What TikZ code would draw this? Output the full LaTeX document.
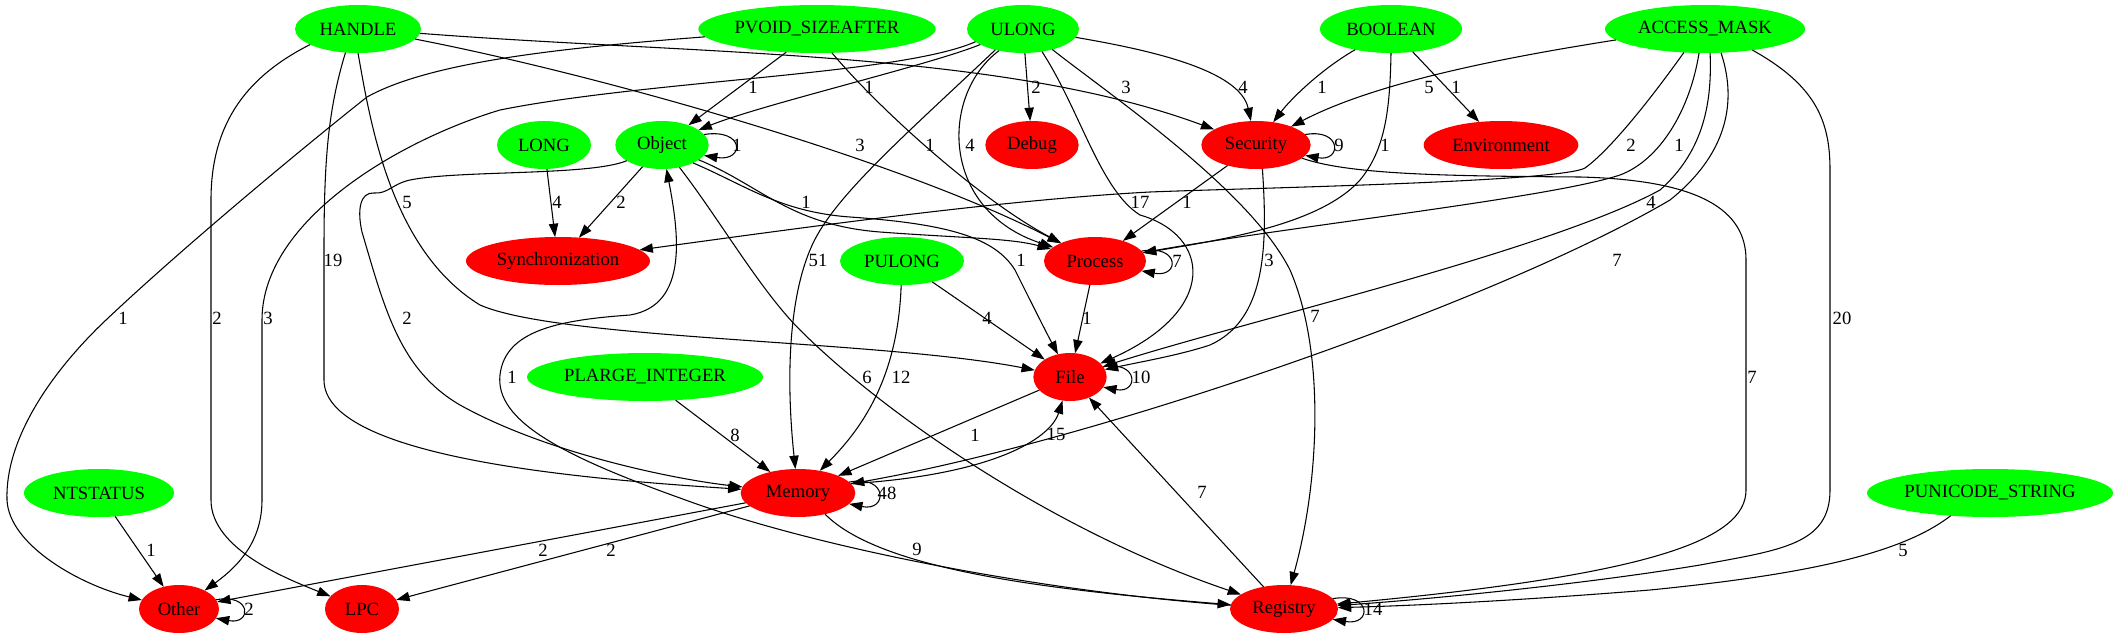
\documentclass[tikz,border=0pt]{standalone}
\usepackage{fontspec}
\setmainfont{Liberation Serif}
\usetikzlibrary{arrows.meta,shapes.geometric}
\newcommand{\nl}[1]{\makebox[0pt][c]{#1}}
\begin{document}
\begin{tikzpicture}[x=0.75pt,y=-0.75pt,
  gnode/.style={ellipse,inner sep=0pt,outer sep=0pt,minimum height=36pt,font=\fontsize{14}{16}\selectfont},
  gn/.style={gnode,fill=green},
  rn/.style={gnode,fill=red},
  edge/.style={draw=black,line width=0.8pt,-{Triangle[length=10pt,width=7pt]}},
  lab/.style={inner sep=0pt,font=\fontsize{14}{16}\selectfont}]
\fill[white] (0,0) rectangle (2115,639);
\useasboundingbox (0,0) rectangle (2115,639);
% nodes
\node[gn,minimum width=94.5pt] (HANDLE) at (358,29) {\nl{HANDLE}};
\node[gn,minimum width=178pt] (PVOID) at (817,29) {\nl{PVOID\_SIZEAFTER}};
\node[gn,minimum width=84pt] (ULONG) at (1023,29) {\nl{ULONG}};
\node[gn,minimum width=106.5pt] (BOOLEAN) at (1391,29) {\nl{BOOLEAN}};
\node[gn,minimum width=150pt] (AM) at (1705,29) {\nl{ACCESS\_MASK}};
\node[gn,minimum width=70.5pt] (LONG) at (544,145) {\nl{LONG}};
\node[gn,minimum width=70pt] (Object) at (662,145) {\nl{Object}};
\node[rn,minimum width=70pt] (Debug) at (1032,145) {\nl{Debug}};
\node[rn,minimum width=82pt] (Security) at (1256,145) {\nl{Security}};
\node[rn,minimum width=116pt] (Environment) at (1501,145) {\nl{Environment}};
\node[rn,minimum width=138pt] (Sync) at (558,261) {\nl{Synchronization}};
\node[gn,minimum width=93pt] (PULONG) at (902,261) {\nl{PULONG}};
\node[rn,minimum width=76.5pt] (Process) at (1095,261) {\nl{Process}};
\node[gn,minimum width=177pt] (PLI) at (645,377) {\nl{PLARGE\_INTEGER}};
\node[rn,minimum width=55pt] (File) at (1070,377) {\nl{File}};
\node[gn,minimum width=112.5pt] (NTSTATUS) at (99,493) {\nl{NTSTATUS}};
\node[rn,minimum width=86pt] (Memory) at (798,493) {\nl{Memory}};
\node[gn,minimum width=184.5pt] (PUS) at (1990,493) {\nl{PUNICODE\_STRING}};
\node[rn,minimum width=60pt] (Other) at (179,609) {\nl{Other}};
\node[rn,minimum width=55.5pt] (LPC) at (362,609) {\nl{LPC}};
\node[rn,minimum width=81pt] (Registry) at (1284,609) {\nl{Registry}};
% HANDLE
\draw[edge] (HANDLE.-4) .. controls (700,55) and (1000,50) .. (Security);
\draw[edge] (HANDLE.-10) .. controls (600,75) and (900,160) .. (Process);
\draw[edge] (HANDLE.south) .. controls (370,120) and (390,250) .. (480,305) .. controls (560,340) and (880,340) .. (File);
\draw[edge] (HANDLE.242) .. controls (328,110) and (324,160) .. (324,250) -- (324,380) .. controls (324,460) and (600,480) .. (Memory);
\draw[edge] (HANDLE.198) .. controls (250,75) and (211,120) .. (211,200) -- (211,500) .. controls (211,550) and (290,580) .. (LPC);
% PVOID
\draw[edge] (PVOID.184) .. controls (560,48) and (430,62) .. (367,97) .. controls (300,150) and (180,250) .. (106,320) .. controls (50,373) and (5,440) .. (7,500) .. controls (9,545) and (80,585) .. (Other);
\draw[edge] (PVOID.217) -- (Object);
\draw[edge] (PVOID.-58) .. controls (880,110) and (980,200) .. (Process);
% ULONG
\draw[edge] (ULONG.200) .. controls (930,65) and (760,105) .. (Object);
\draw[edge] (ULONG) -- (Debug);
\draw[edge] (ULONG.-9) .. controls (1150,50) and (1240,70) .. (Security);
\draw[edge] (ULONG.222) .. controls (940,95) and (940,210) .. (Process);
\draw[edge] (ULONG.217) .. controls (900,140) and (830,200) .. (810,250) .. controls (785,310) and (788,400) .. (Memory);
\draw[edge] (ULONG.-50) .. controls (1080,110) and (1100,190) .. (1140,215) .. controls (1210,235) and (1220,310) .. (File);
\draw[edge] (ULONG.-35) .. controls (1110,95) and (1250,190) .. (1290,270) .. controls (1325,350) and (1320,480) .. (Registry);
\draw[edge] (ULONG.195) .. controls (900,75) and (650,80) .. (500,110) .. controls (400,140) and (262,220) .. (262,320) -- (262,500) .. controls (262,540) and (240,565) .. (Other);
% BOOLEAN
\draw[edge] (BOOLEAN.210) .. controls (1320,70) and (1290,100) .. (Security);
\draw[edge] (BOOLEAN) -- (Environment);
\draw[edge] (BOOLEAN.south) .. controls (1390,110) and (1385,150) .. (1360,180) .. controls (1320,225) and (1220,240) .. (Process);
% ACCESS_MASK
\draw[edge] (AM.187) .. controls (1520,55) and (1380,80) .. (Security);
\draw[edge] (AM.228) .. controls (1650,100) and (1610,150) .. (1585,168) .. controls (1560,182) and (1250,188) .. (1150,192) .. controls (1000,200) and (800,228) .. (Sync);
\draw[edge] (AM.256) .. controls (1690,110) and (1660,160) .. (1620,175) .. controls (1550,198) and (1300,225) .. (Process);
\draw[edge] (AM.-78) .. controls (1712,100) and (1705,150) .. (1660,190) .. controls (1550,250) and (1250,320) .. (File);
\draw[edge] (AM.-56) .. controls (1740,110) and (1720,160) .. (1670,200) .. controls (1500,300) and (1100,440) .. (Memory);
\draw[edge] (AM.-24) .. controls (1815,85) and (1830,120) .. (1830,170) -- (1830,490) .. controls (1830,545) and (1780,550) .. (1700,565) .. controls (1580,585) and (1420,600) .. (Registry);
% Security
\draw[edge] (Security.12) .. controls (1342,128) and (1342,162) .. (Security.-12);
\draw[edge] (Security) -- (Process);
\draw[edge] (Security.-75) .. controls (1268,250) and (1265,320) .. (1210,345) .. controls (1180,355) and (1140,362) .. (File);
\draw[edge] (Security.-16) .. controls (1350,175) and (1450,176) .. (1580,177) .. controls (1700,180) and (1746,210) .. (1746,260) -- (1746,490) .. controls (1746,540) and (1650,575) .. (Registry);
% Process
\draw[edge] (Process.12) .. controls (1180,244) and (1180,278) .. (Process.-12);
\draw[edge] (Process) -- (File);
% Object
\draw[edge] (Object.14) .. controls (745,128) and (745,162) .. (Object.-14);
\draw[edge] (Object) -- (Sync);
\draw[edge] (Object.-22) .. controls (760,185) and (790,225) .. (880,232) .. controls (960,238) and (1010,238) .. (Process);
\draw[edge] (Object.-30) .. controls (745,185) and (780,212) .. (850,217) .. controls (950,224) and (995,238) .. (1015,270) .. controls (1030,300) and (1045,330) .. (File);
\draw[edge] (Object.204) .. controls (590,176) and (460,170) .. (410,180) .. controls (392,184) and (388,194) .. (374,193) .. controls (360,192) and (357,210) .. (362,232) .. controls (385,310) and (400,370) .. (460,405) .. controls (550,455) and (680,480) .. (Memory);
\draw[edge] (Object.-52) .. controls (720,220) and (760,290) .. (800,330) .. controls (880,410) and (1050,530) .. (Registry);
\draw[edge] (Registry.176) .. controls (1050,592) and (820,550) .. (680,498) .. controls (560,455) and (495,420) .. (500,375) .. controls (505,330) and (560,320) .. (630,315) .. controls (690,305) and (678,230) .. (Object);
% others
\draw[edge] (LONG) -- (Sync);
\draw[edge] (PULONG) -- (File);
\draw[edge] (PULONG.-92) .. controls (898,380) and (860,430) .. (Memory);
\draw[edge] (PLI) -- (Memory);
\draw[edge] (File.17) .. controls (1139,360) and (1139,394) .. (File.-17);
\draw[edge] (File) -- (Memory);
\draw[edge] (Memory.10) .. controls (990,475) and (1050,440) .. (File);
\draw[edge] (Registry) -- (File);
\draw[edge] (Memory.12) .. controls (888,474) and (888,512) .. (Memory.-12);
\draw[edge] (Memory.-38) .. controls (880,570) and (1050,590) .. (Registry);
\draw[edge] (Memory) -- (Other);
\draw[edge] (Memory) -- (LPC);
\draw[edge] (NTSTATUS) -- (Other);
\draw[edge] (PUS.210) .. controls (1900,555) and (1800,575) .. (1650,590) .. controls (1500,602) and (1400,606) .. (Registry);
\draw[edge] (Other.14) .. controls (252,593) and (252,625) .. (Other.-14);
\draw[edge] (Registry.12) .. controls (1372,592) and (1372,626) .. (Registry.-12);
% labels
\node[lab] (l1) at (1126,87) {3};
\node[lab] (l2) at (860,145) {3};
\node[lab] (l3) at (407,202) {5};
\node[lab] (l4) at (333,260) {19};
\node[lab] (l5) at (217,318) {2};
\node[lab] (l6) at (123,318) {1};
\node[lab] (l7) at (753,87) {1};
\node[lab] (l8) at (930,145) {1};
\node[lab] (l9) at (869,87) {1};
\node[lab] (l10) at (1036,87) {2};
\node[lab] (l11) at (1243,87) {4};
\node[lab] (l12) at (970,145) {4};
\node[lab] (l13) at (818,260) {51};
\node[lab] (l14) at (1140,202) {17};
\node[lab] (l15) at (1315,316) {7};
\node[lab] (l16) at (268,318) {3};
\node[lab] (l17) at (1322,87) {1};
\node[lab] (l18) at (1456,87) {1};
\node[lab] (l19) at (1385,145) {1};
\node[lab] (l20) at (1429,87) {5};
\node[lab] (l21) at (1631,145) {2};
\node[lab] (l22) at (1679,145) {1};
\node[lab] (l23) at (1651,202) {4};
\node[lab] (l24) at (1617,260) {7};
\node[lab] (l25) at (1842,318) {20};
\node[lab] (l26) at (1339,145) {9};
\node[lab] (l27) at (1187,202) {1};
\node[lab] (l28) at (1269,260) {3};
\node[lab] (l29) at (1752,377) {7};
\node[lab] (l30) at (1177,261) {7};
\node[lab] (l31) at (1087,318) {1};
\node[lab] (l32) at (737,145) {1};
\node[lab] (l33) at (621,202) {2};
\node[lab] (l34) at (806,202) {1};
\node[lab] (l35) at (1021,260) {1};
\node[lab] (l36) at (407,318) {2};
\node[lab] (l37) at (867,377) {6};
\node[lab] (l38) at (512,377) {1};
\node[lab] (l39) at (557,202) {4};
\node[lab] (l40) at (987,318) {4};
\node[lab] (l41) at (901,377) {12};
\node[lab] (l42) at (735,435) {8};
\node[lab] (l43) at (1141,377) {10};
\node[lab] (l44) at (975,435) {1};
\node[lab] (l45) at (1056,434) {15};
\node[lab] (l46) at (1202,492) {7};
\node[lab] (l47) at (887,493) {48};
\node[lab] (l48) at (917,549) {9};
\node[lab] (l49) at (543,550) {2};
\node[lab] (l50) at (611,550) {2};
\node[lab] (l51) at (151,550) {1};
\node[lab] (l52) at (1903,550) {5};
\node[lab] (l53) at (249,609) {2};
\node[lab] (l54) at (1373,609) {14};
\end{tikzpicture}
\end{document}
